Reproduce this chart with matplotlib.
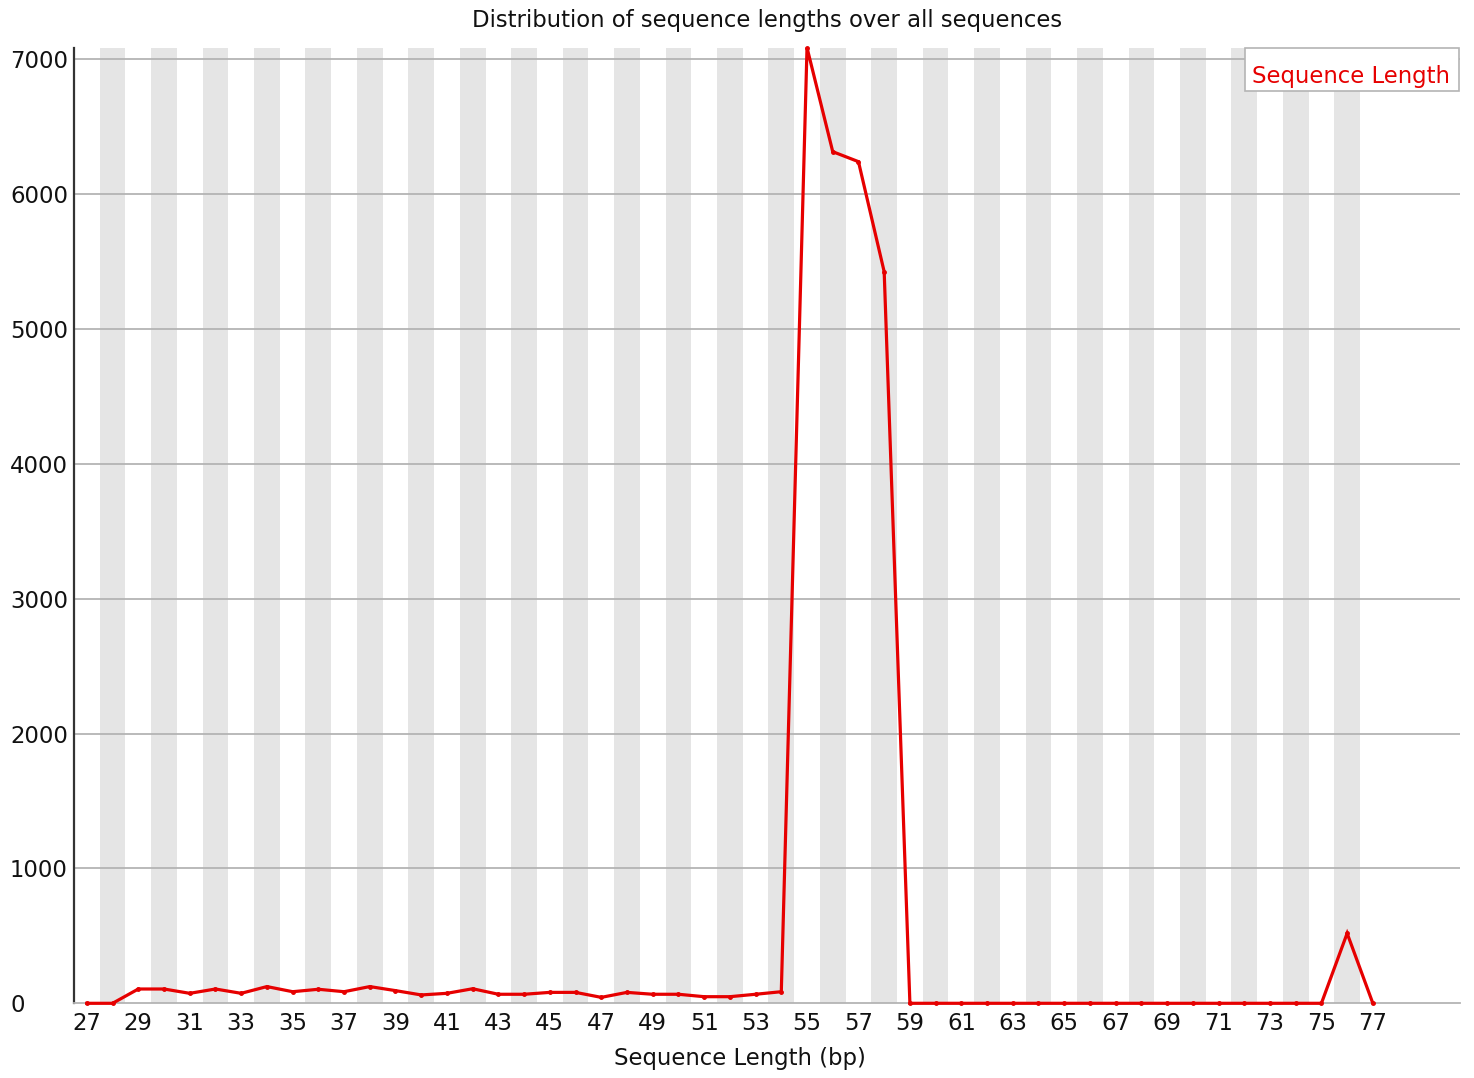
import matplotlib
matplotlib.use("Agg")
import matplotlib.pyplot as plt
from matplotlib.patches import Rectangle

lengths = list(range(27, 78))
counts = [0, 0, 106, 106, 74, 106, 74, 124, 86, 104, 86, 124, 94, 62, 74, 108,
          67, 67, 81, 81, 44, 81, 67, 67, 49, 49, 67, 86,
          7086, 6315, 6241, 5425,
          0, 0, 0, 0, 0, 0, 0, 0, 0, 0, 0, 0, 0, 0, 0, 0, 0,
          519, 0]
y_ticks = [0, 1000, 2000, 3000, 4000, 5000, 6000, 7000]
x_tick_labels = [str(v) for v in lengths if v % 2 == 1]
x_tick_pos = [v for v in lengths if v % 2 == 1]
title = "Distribution of sequence lengths over all sequences"
xlabel = "Sequence Length (bp)"
series_name = "Sequence Length"

W, H = 1474, 1078
fig = plt.figure(figsize=(W / 100, H / 100), dpi=100)
left, right, top, bottom = 74, 1460, 47.7, 1003.3
ax = fig.add_axes([left / W, 1 - bottom / H, (right - left) / W, (bottom - top) / H])

fs = 16.4
plt.rcParams['font.family'] = ['DejaVu Sans']

ax.set_xlim(26.5, 26.5 + (right - left) / 25.72)
ax.set_ylim(0, max(counts))

for v in lengths:
    if v % 2 == 0:
        ax.axvspan(v - 0.5, v + 0.5, color='#e5e5e5', lw=0, zorder=0)

for t in y_ticks[1:]:
    ax.axhline(t, color='#b4b4b4', lw=1.3, zorder=1)

ax.plot(lengths, counts, color='#e60000', lw=2.3, zorder=3,
        marker='o', markersize=2.5, solid_joinstyle='miter', clip_on=False)

for s in ['top', 'right']:
    ax.spines[s].set_visible(False)
ax.spines['left'].set_color('#333333')
ax.spines['left'].set_linewidth(1.6)
ax.spines['bottom'].set_color('#b4b4b4')
ax.spines['bottom'].set_linewidth(1.3)

ax.set_yticks(y_ticks)
ax.set_yticklabels([str(t) for t in y_ticks], fontsize=fs, ha='left', color='#111111')
ax.tick_params(axis='y', length=0, pad=(left - 10) * 0.72)
ax.set_xticks(x_tick_pos)
ax.set_xticklabels(x_tick_labels, fontsize=fs, color='#111111')
ax.tick_params(axis='x', length=0, pad=6)

fig.text((left + right) / 2 / W, 1 - 21 / H, title, ha='center', va='center', fontsize=fs, color='#111111')
fig.text(740 / W, 1 - 1058 / H, xlabel, ha='center', va='center', fontsize=fs, color='#111111')

# legend box
fig.patches.append(Rectangle((1245 / W, 1 - 91 / H), (1459 - 1245) / W, (91 - 48) / H,
                             transform=fig.transFigure, facecolor='white',
                             edgecolor='#b4b4b4', lw=1.2, zorder=5))
fig.text(1351 / W, 1 - 76 / H, series_name, ha='center', va='center', fontsize=fs,
         color='#e60000', zorder=6)

fig.savefig("out.png", dpi=100)
